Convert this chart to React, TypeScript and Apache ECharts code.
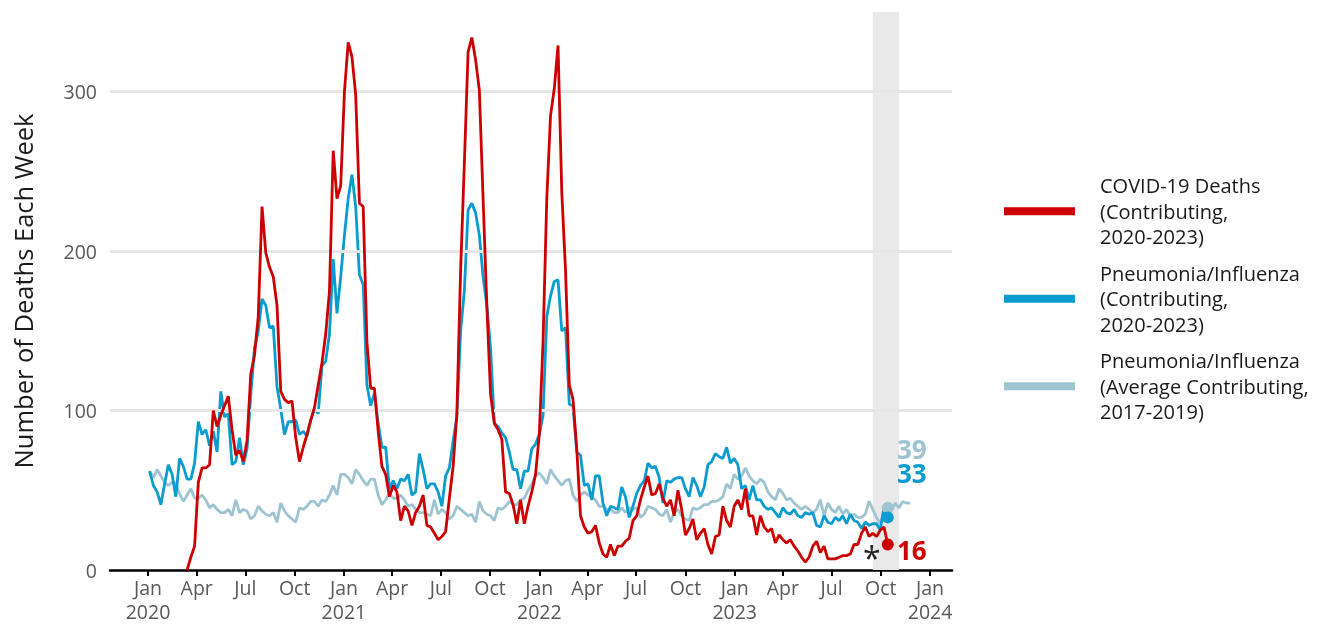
import React, { useEffect, useRef } from "react";
import * as echarts from "echarts";

// Week-ending dates start on Saturday, Jan 4, 2020 (week index 0)
const FIRST_WEEK = Date.UTC(2020, 0, 4);
const WEEK_MS = 7 * 86400000;

const seriesNames = [
  "COVID-19 Deaths (Contributing, 2020-2023)",
  "Pneumonia/Influenza (Contributing, 2020-2023)",
  "Pneumonia/Influenza (Average Contributing, 2017-2019)",
];
const legendLabels = [
  "COVID-19 Deaths\n(Contributing,\n2020-2023)",
  "Pneumonia/Influenza\n(Contributing,\n2020-2023)",
  "Pneumonia/Influenza\n(Average Contributing,\n2017-2019)",
];

// COVID-19 deaths (contributing), weekly
const covidDeaths: (number | null)[] = [
  null, null, null, null, null, null, null, null, null, null,
  0, 8, 15, 55, 64, 64, 66, 100, 90, 97,
  103, 109, 88, 72, 75, 68, 81, 123, 135, 159,
  228, 199, 190, 184, 166, 112, 107, 105, 106, 83,
  68, 77, 85, 94, 102, 116, 130, 148, 175, 263,
  233, 241, 300, 331, 322, 298, 230, 228, 143, 114,
  114, 87, 65, 60, 46, 53, 49, 31, 40, 37,
  28, 36, 40, 47, 28, 27,
  23, 19, 21, 24, 45, 65, 98, 188, 255, 325,
  334, 320, 301, 233, 166, 110, 92, 88, 82, 49,
  48, 41, 29, 44, 29, 40, 49, 60, 85, 143,
  233, 285, 302, 329, 237, 188, 116, 107, 76,
  34, 27, 23, 24, 28, 17, 10, 8, 16, 9,
  15, 15, 18, 20, 31, 34, 44, 52, 59, 47,
  48, 54, 45, 40, 44, 34, 50, 38, 22, 26,
  32, 19, 23, 26, 16, 10, 21, 22, 40, 31,
  27, 40, 44, 38, 51, 34, 34, 22,
  34, 27, 24, 26, 17, 22, 19, 17, 19, 15,
  12, 8, 5, 8, 15, 18, 11, 15, 7, 7,
  7, 8, 9, 9, 10, 16, 16, 23, 27, 21,
  23, 21, 25, 27, 16,
];

// Pneumonia/Influenza deaths (contributing), weekly
const pniDeaths: number[] = [
  62, 53, 49, 41, 54, 66, 60, 46, 70, 65,
  57, 57, 67, 93, 85, 88, 78, 87, 74, 112,
  96, 98, 66, 68, 83, 66, 76, 110, 139, 150,
  170, 166, 152, 153, 115, 101, 85, 93, 93, 94,
  85, 87, 84, 94, 101, 98, 128, 131, 148, 195,
  161, 184, 210, 233, 248, 228, 185, 179, 116, 103,
  111, 92, 77, 77, 51, 56, 51, 57, 56, 60,
  47, 49, 73, 63, 51, 54,
  54, 49, 40, 59, 64, 81, 96, 150, 175, 226,
  230, 224, 210, 184, 166, 139, 92, 90, 86, 83,
  74, 63, 63, 51, 62, 62, 76, 79, 85, 97,
  159, 172, 181, 182, 150, 152, 104, 103, 74,
  72, 53, 54, 44, 59, 59, 42, 34, 40, 39,
  38, 52, 46, 33, 40, 48, 53, 56, 67, 64,
  65, 58, 42, 56, 55, 57, 58, 58, 51, 46,
  58, 53, 46, 52, 66, 68, 73, 71, 70, 77,
  67, 70, 66, 51, 53, 44, 53, 44,
  44, 40, 38, 39, 36, 33, 39, 36, 35, 38,
  34, 33, 36, 35, 36, 28, 27, 34, 30, 29,
  33, 31, 34, 29, 35, 31, 30, 26, 30, 28,
  29, 29, 25, 40, 33,
];

// Pneumonia/Influenza average contributing deaths 2017-2019, weekly
const pniAverage: number[] = [
  62, 58, 63, 59, 55, 53, 55, 54, 48, 43,
  47, 51, 45, 45, 47, 44, 39, 41, 38, 36,
  36, 38, 34, 44, 36, 38, 37, 32, 34, 40,
  37, 35, 34, 36, 30, 42, 37, 34, 32, 30,
  39, 38, 40, 43, 43, 40, 44, 43, 47, 53,
  47, 60, 60, 58, 54, 63, 60, 56, 53, 57,
  57, 47, 41, 44, 48, 45, 45, 47, 44, 40,
  41, 38, 36, 36, 35, 34,
  44, 35, 38, 36, 32, 34, 40, 38, 36, 34,
  35, 30, 43, 37, 35, 34, 31, 39, 38, 40,
  43, 41, 41, 44, 45, 50, 54, 59, 61, 58,
  54, 63, 59, 56, 53, 56, 57, 47, 43,
  47, 49, 47, 46, 44, 40, 40, 38, 38, 36,
  36, 39, 36, 39, 38, 39, 33, 35, 40, 39,
  38, 35, 34, 38, 30, 36, 38, 34, 32, 31,
  39, 38, 39, 41, 41, 43, 43, 44, 46, 54,
  51, 60, 57, 59, 64, 59, 56, 54,
  57, 55, 49, 46, 44, 51, 48, 44, 45, 42,
  40, 38, 40, 38, 36, 38, 44, 34, 42, 38,
  36, 40, 35, 38, 34, 35, 33, 33, 35, 43,
  38, 33, 29, 36, 39, 37, 42, 39, 43, 42,
  42,
];

const lastReportedWeek = 197;
const incompleteWeeks = [193, 200];
const yTicks = [0, 100, 200, 300];
const tickYears = [2020, 2021, 2022, 2023];
const tickMonths = [0, 3, 6, 9];
const MONTHS = ["Jan", "Feb", "Mar", "Apr", "May", "Jun", "Jul", "Aug", "Sep", "Oct", "Nov", "Dec"];

const COLORS = ["#cc0000", "#0a9bcf", "#9ec4d2"];
const FONT = "Open Sans";

const weekDate = (i: number) => FIRST_WEEK + i * WEEK_MS;
const toPairs = (arr: (number | null)[]) => arr.map((v, i) => [weekDate(i), v]);

export default function App() {
  const ref = useRef<HTMLDivElement>(null);

  useEffect(() => {
    if (!ref.current) return;
    const chart = echarts.init(ref.current, null, { renderer: "svg" });

    const xTicks: number[] = [];
    tickYears.forEach((y) => tickMonths.forEach((m) => xTicks.push(Date.UTC(y, m, 1))));
    xTicks.push(Date.UTC(2024, 0, 1));

    const endLabel = (color: string, offset: number[]) => ({
      show: true,
      position: "inside",
      offset,
      formatter: (p: any) => String(p.value),
      fontFamily: FONT,
      fontSize: 26,
      lineHeight: 20,
      fontWeight: "bold",
      color,
    });

    const endPoint = (arr: (number | null)[], color: string, offset: number[]) => ({
      symbol: "circle",
      symbolSize: 12,
      silent: true,
      itemStyle: { color },
      label: endLabel(color, offset),
      data: [{ coord: [weekDate(lastReportedWeek), arr[lastReportedWeek]], value: arr[lastReportedWeek] }],
    });

    chart.setOption({
      animation: false,
      textStyle: { fontFamily: FONT },
      grid: { left: 110, right: 373, top: 12, bottom: 57 },
      xAxis: {
        type: "value",
        min: Date.UTC(2019, 9, 22),
        max: Date.UTC(2024, 1, 11),
        axisLine: { show: true, lineStyle: { color: "#000", width: 2.5 } },
        axisTick: { show: true, customValues: xTicks, length: 6, lineStyle: { color: "#000", width: 2 } },
        axisLabel: {
          customValues: xTicks,
          formatter: (v: number) => {
            const d = new Date(v);
            const m = d.getUTCMonth();
            return m === 0 ? `${MONTHS[m]}\n${d.getUTCFullYear()}` : MONTHS[m];
          },
          color: "#595959",
          fontSize: 19.5,
          lineHeight: 24,
          margin: 5,
        },
        splitLine: { show: false },
      },
      yAxis: {
        type: "value",
        min: 0,
        max: 350,
        interval: 100,
        name: "Number of Deaths Each Week",
        nameLocation: "middle",
        nameGap: 74,
        nameTextStyle: { fontSize: 25.5, color: "#1a1a1a", fontFamily: FONT },
        axisLine: { show: false },
        axisTick: { show: false },
        axisLabel: { customValues: yTicks, color: "#595959", fontSize: 19.5, margin: 13 },
        splitLine: { show: false },
      },
      legend: {
        orient: "vertical",
        left: 1004,
        top: 173,
        padding: 0,
        itemWidth: 71,
        itemHeight: 8,
        itemGap: 11,
        icon: "rect",
        data: seriesNames,
        formatter: (name: string) => legendLabels[seriesNames.indexOf(name)],
        textStyle: { fontSize: 20, lineHeight: 25.5, color: "#1a1a1a", padding: [0, 0, 0, 20], fontFamily: FONT },
        selectedMode: false,
      },
      series: [
        {
          name: "background",
          type: "line",
          data: [],
          z: 1,
          silent: true,
          markArea: {
            silent: true,
            itemStyle: { color: "#e9e9e9" },
            data: [[{ xAxis: weekDate(incompleteWeeks[0]) }, { xAxis: weekDate(incompleteWeeks[1]) }]],
          },
          markLine: {
            silent: true,
            symbol: "none",
            label: { show: false },
            lineStyle: { color: "#e6e6e6", width: 3, type: "solid" },
            data: yTicks.filter((t) => t > 0).map((t) => ({ yAxis: t })),
          },
        },
        {
          name: seriesNames[2],
          type: "line",
          z: 3,
          data: toPairs(pniAverage),
          showSymbol: false,
          color: COLORS[2],
          lineStyle: { color: COLORS[2], width: 2.8 },
          markPoint: endPoint(pniAverage, COLORS[2], [24, -59]),
        },
        {
          name: seriesNames[1],
          type: "line",
          z: 4,
          data: toPairs(pniDeaths),
          showSymbol: false,
          color: COLORS[1],
          lineStyle: { color: COLORS[1], width: 2.8 },
          markPoint: endPoint(pniDeaths, COLORS[1], [24, -44]),
        },
        {
          name: seriesNames[0],
          type: "line",
          z: 5,
          data: toPairs(covidDeaths),
          showSymbol: false,
          connectNulls: false,
          color: COLORS[0],
          lineStyle: { color: COLORS[0], width: 2.8 },
          markPoint: {
            silent: true,
            data: [
              {
                coord: [weekDate(lastReportedWeek), covidDeaths[lastReportedWeek]],
                value: covidDeaths[lastReportedWeek],
                symbol: "circle",
                symbolSize: 12,
                itemStyle: { color: COLORS[0] },
                label: endLabel(COLORS[0], [24, 6]),
              },
              {
                coord: [weekDate(incompleteWeeks[0]), 0],
                value: 0,
                symbol: "circle",
                symbolSize: 0,
                label: {
                  show: true,
                  position: "inside",
                  offset: [-1, -13],
                  formatter: "*",
                  fontFamily: FONT,
                  fontSize: 32,
                  lineHeight: 20,
                  color: "#222",
                },
              },
            ],
          },
        },
      ],
    });

    return () => chart.dispose();
  }, []);

  return <div ref={ref} style={{ position: "fixed", left: 0, top: 0, width: 1325, height: 627 }} />;
}
